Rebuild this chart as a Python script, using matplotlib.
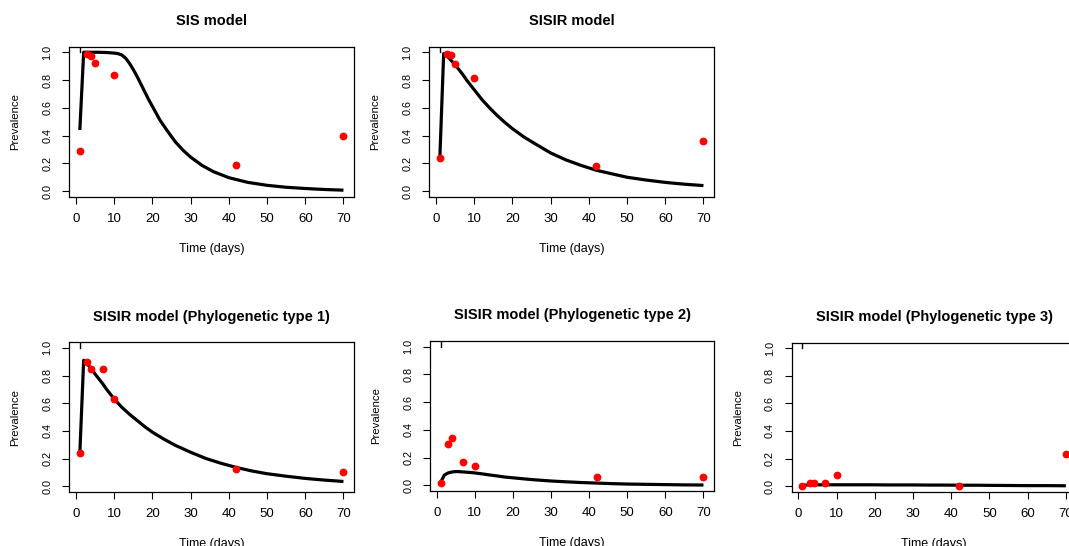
import matplotlib
matplotlib.use("Agg")
import matplotlib.pyplot as plt

plt.rcParams['font.family'] = ['Liberation Sans', 'DejaVu Sans']

titles = ["SIS model", "SISIR model",
          "SISIR model (Phylogenetic type 1)",
          "SISIR model (Phylogenetic type 2)",
          "SISIR model (Phylogenetic type 3)"]

# observed prevalence (red points)
obs_t = [1, 3, 4, 5, 10, 42, 70]
obs_t_phylo = [1, 3, 4, 7, 10, 42, 70]
obs_sis = [0.29, 0.985, 0.975, 0.92, 0.835, 0.19, 0.395]
obs_sisir = [0.24, 0.99, 0.98, 0.915, 0.815, 0.18, 0.36]
obs_p1 = [0.24, 0.90, 0.845, 0.85, 0.63, 0.125, 0.105]
obs_p2 = [0.02, 0.295, 0.345, 0.17, 0.14, 0.06, 0.06]
obs_p3 = [0.0, 0.02, 0.02, 0.02, 0.08, 0.0, 0.23]

# model curves
t_sis = [1, 2, 3, 4, 5, 6, 8, 10, 11, 12, 13, 14, 15, 16, 17, 18, 19, 20, 21,
         22, 23, 24, 26, 28, 30, 33, 36, 40, 45, 50, 55, 60, 65, 70]
y_sis = [0.44, 1.0, 1.0, 1.0, 1.0, 1.0, 0.998, 0.994, 0.99, 0.98, 0.957,
         0.92, 0.875, 0.825, 0.77, 0.715, 0.66, 0.61, 0.56, 0.51, 0.47, 0.43,
         0.355, 0.295, 0.245, 0.185, 0.14, 0.097, 0.063, 0.042, 0.028, 0.019,
         0.012, 0.007]

t_mod = [1, 2, 3, 4, 5, 6, 7, 8, 9, 10, 12, 14, 16, 18, 20, 23, 26, 30, 34,
         38, 42, 46, 50, 55, 60, 65, 70]
y_sisir = [0.24, 0.99, 0.97, 0.94, 0.91, 0.875, 0.84, 0.80, 0.765, 0.73, 0.66,
           0.60, 0.545, 0.495, 0.45, 0.39, 0.34, 0.275, 0.225, 0.185, 0.15,
           0.125, 0.10, 0.08, 0.063, 0.05, 0.04]
y_p1 = [0.24, 0.91, 0.88, 0.85, 0.81, 0.775, 0.74, 0.70, 0.665, 0.63, 0.57,
        0.52, 0.475, 0.43, 0.39, 0.34, 0.295, 0.245, 0.20, 0.165, 0.135,
        0.11, 0.09, 0.072, 0.056, 0.044, 0.034]
y_p2 = [0.02, 0.075, 0.09, 0.097, 0.10, 0.099, 0.097, 0.095, 0.093, 0.09,
        0.083, 0.075, 0.068, 0.06, 0.055, 0.047, 0.04, 0.032, 0.026, 0.021,
        0.017, 0.013, 0.01, 0.008, 0.006, 0.004, 0.003]
y_p3 = [0.004, 0.008, 0.01, 0.01, 0.01, 0.01, 0.01, 0.01, 0.01, 0.01, 0.01,
        0.01, 0.01, 0.01, 0.01, 0.009, 0.009, 0.009, 0.008, 0.008, 0.007,
        0.007, 0.006, 0.005, 0.004, 0.004, 0.003]

# short vertical start segment at top of each panel
seg_t = [1, 1]
seg_y = [1.0, 1.1]

xticks = [0, 10, 20, 30, 40, 50, 60, 70]
yticks = [0.0, 0.2, 0.4, 0.6, 0.8, 1.0]

W, H = 1069, 546
panels = [
    # left, top, right, bottom in pixels
    ((69.3, 46.7, 354.0, 196.7), titles[0], t_sis, y_sis, obs_t, obs_sis),
    ((429.3, 46.7, 714.0, 196.7), titles[1], t_mod, y_sisir, obs_t, obs_sisir),
    ((69.3, 342.3, 354.0, 491.7), titles[2], t_mod, y_p1, obs_t_phylo, obs_p1),
    ((430.0, 341.0, 714.0, 491.0), titles[3], t_mod, y_p2, obs_t_phylo, obs_p2),
    ((791.7, 342.7, 1076.4, 491.7), titles[4], t_mod, y_p3, obs_t_phylo, obs_p3),
]

fig = plt.figure(figsize=(W / 100, H / 100), dpi=100)
for (l, t, r, b), title, tx, ty, ox, oy in panels:
    ax = fig.add_axes([l / W, 1 - b / H, (r - l) / W, (b - t) / H])
    ax.plot(tx, ty, color='black', lw=2.3, solid_joinstyle='round',
            solid_capstyle='butt')
    ax.plot(seg_t, seg_y, color='black', lw=1.0)
    ax.plot(ox, oy, 'o', color='#ff0000', ms=4.6, mec='#ff0000', zorder=5)
    ax.set_xlim(-1.76, 72.76)
    ax.set_ylim(-0.04, 1.04)
    ax.set_xticks(xticks)
    ax.set_xticklabels([str(v) for v in xticks])
    ax.set_yticks(yticks)
    ax.set_yticklabels([f"{v:.1f}" for v in yticks])
    ax.tick_params(axis='both', direction='out', length=5, width=0.8,
                   colors='black')
    ax.tick_params(axis='x', pad=6.5, labelsize=9.5)
    ax.tick_params(axis='y', labelrotation=90, pad=7, labelsize=7.8)
    for lab in ax.get_yticklabels():
        lab.set_verticalalignment('center')
    for s in ax.spines.values():
        s.set_linewidth(0.9)
    ax.set_title(title, fontsize=10.5, fontweight='bold', pad=15.5)
    ax.set_xlabel("Time (days)", fontsize=9, labelpad=13)
    ax.set_ylabel("Prevalence", fontsize=8.2, labelpad=16)

fig.savefig("out.png", dpi=100)
